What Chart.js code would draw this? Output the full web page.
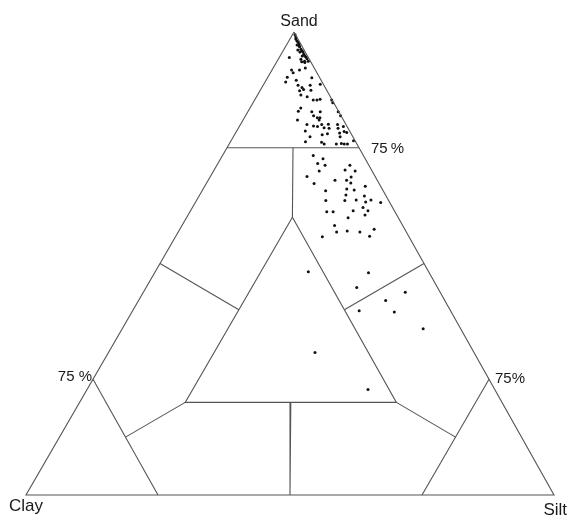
<!DOCTYPE html>
<html>
<head>
<meta charset="utf-8">
<script src="https://cdn.jsdelivr.net/npm/chart.js@4"></script>
<style>
html,body{margin:0;padding:0;background:#fff;}
#wrap{width:570px;height:517px;}
</style>
</head>
<body>
<div id="wrap"><canvas id="tern" width="570" height="517"></canvas></div>
<script>
// sample compositions, percent
const sand = [99.4,98.9,98.5,98.1,97.8,97.4,97.0,96.8,96.3,95.9,95.7,95.2,94.8,94.6,94.2,93.7,97.2,95.7,94.8,93.7,96.1,
  94.5,94.1,93.6,93.4,91.8,91.2,90.2,89.6,89.2,91.8,92.2,90.1,88.5,88.0,88.5,88.7,87.3,87.6,87.4,86.4,86.0,85.3,85.3,85.5,85.3,84.7,
  83.6,82.9,82.8,82.8,81.9,81.5,81.5,81.0,81.0,82.8,81.9,80.0,79.7,79.6,80.0,79.3,80.1,79.2,80.0,79.2,79.6,78.6,77.4,77.8,78.0,78.2,77.4,78.5,78.3,
  76.3,76.2,75.8,75.8,75.9,75.8,75.8,76.5,
  73.3,72.6,71.6,71.2,70.0,68.8,67.3,70.2,71.2,70.0,68.7,68.0,68.0,67.4,65.7,66.1,65.9,66.7,64.8,64.6,63.6,63.6,63.7,63.3,63.7,63.2,
  62.1,61.4,61.2,61.2,61.4,60.5,59.9,58.2,56.8,57.0,56.8,55.9,57.4,55.8,
  48.2,48.0,44.8,43.8,42.0,39.8,39.5,35.9,30.8,22.8];
const silt = [0.5,0.9,1.1,1.5,1.9,2.3,2.5,2.7,3.2,3.6,3.9,4.3,4.7,5.0,5.4,5.9,2.0,3.3,4.2,5.2,2.7,
  1.9,4.3,4.7,5.4,3.7,4.3,3.7,5.7,3.9,5.2,6.1,8.4,6.6,7.6,8.9,10.7,7.5,8.1,9.6,8.2,9.6,11.1,11.8,12.3,14.6,15.1,
  9.6,9.5,12.1,13.7,12.9,13.8,14.3,10.3,14.4,17.1,18.0,12.6,14.0,14.8,15.4,16.2,16.6,17.2,18.4,18.9,19.7,13.0,14.5,16.6,17.5,19.7,20.2,20.4,21.0,
  14.2,17.3,18.0,20.3,21.2,21.8,22.4,23.2,
  17.2,19.4,18.9,20.5,20.0,18.3,20.4,24.8,25.2,26.8,26.7,26.2,24.0,27.3,23.4,27.2,28.7,30.4,27.7,31.3,24.5,28.1,30.2,32.2,33.0,35.1,
  32.3,33.6,25.9,27.1,30.8,33.5,30.6,28.9,30.0,31.9,34.4,36.7,36.8,27.8,
  29.0,40.5,39.9,49.6,46.8,42.9,49.7,57.0,39.1,53.2];
const clay = [0.1,0.2,0.4,0.4,0.3,0.3,0.5,0.5,0.5,0.5,0.4,0.5,0.5,0.4,0.4,0.4,0.8,1.0,1.0,1.1,1.2,
  3.6,1.6,1.7,1.2,4.5,4.5,6.1,4.7,6.9,3.0,1.7,1.5,4.9,4.4,2.6,0.6,5.2,4.3,3.0,5.4,4.4,3.6,2.9,2.2,0.1,0.2,
  6.8,7.6,5.1,3.5,5.2,4.7,4.2,8.7,4.6,0.1,0.1,7.4,6.3,5.6,4.6,4.5,3.3,3.6,1.6,1.9,0.7,8.4,8.1,5.6,4.5,2.1,2.4,1.1,0.7,
  9.5,6.5,6.2,3.9,2.9,2.4,1.8,0.3,
  9.5,8.0,9.5,8.3,10.0,12.9,12.3,5.0,3.6,3.2,4.6,5.8,8.0,5.3,10.9,6.7,5.4,2.9,7.5,4.1,11.9,8.3,6.1,4.5,3.3,1.7,
  5.6,5.0,12.9,11.7,7.8,6.0,9.5,12.9,13.2,11.1,8.8,7.4,5.8,16.4,
  22.8,11.5,15.3,6.6,11.2,17.3,10.8,7.1,30.1,24.0];

const corners = ["Sand", "Clay", "Silt"];
const pctLabels = ["75\u2009%", "75 %", "75%"];

// class boundaries, each point [sand, silt, clay]
const boundaries = [
  [[100,0,0],[0,0,100],[0,100,0],[100,0,0]],
  [[75,0,25],[75,25,0]],
  [[25,0,75],[0,25,75]],
  [[25,75,0],[0,75,25]],
  [[60,20,20],[20,20,60],[20,60,20],[60,20,20]],
  [[75,12.5,12.5],[60,20,20]],
  [[50,0,50],[40,20,40]],
  [[50,50,0],[40,40,20]],
  [[12.5,12.5,75],[20,20,60]],
  [[12.5,75,12.5],[20,60,20]],
  [[20,40,40],[0,50,50]]
];

// sand apex sits a bit right of centre in the scan
const APEX = { x: 50.76, y: 87.69 };

function toXY(s, si, c){
  return { x: si + s * APEX.x / 100, y: s * APEX.y / 100 };
}

const labelPlugin = {
  id: "ternLabels",
  afterDraw(chart){
    const ctx = chart.ctx, xs = chart.scales.x, ys = chart.scales.y;
    const at = (s, si, c) => {
      const p = toXY(s, si, c);
      return [xs.getPixelForValue(p.x), ys.getPixelForValue(p.y)];
    };
    ctx.save();
    ctx.fillStyle = "#1a1a1a";
    ctx.textBaseline = "alphabetic";

    ctx.font = "16px 'Liberation Sans', Arial, sans-serif";
    let p = at(100, 0, 0);
    ctx.textAlign = "center";
    ctx.fillText(corners[0], p[0] + 5, p[1] - 6);
    ctx.font = "17px 'Liberation Sans', Arial, sans-serif";
    p = at(0, 0, 100);
    ctx.textAlign = "left";
    ctx.fillText(corners[1], p[0] - 17, p[1] + 16);
    p = at(0, 100, 0);
    ctx.textAlign = "right";
    ctx.fillText(corners[2], p[0] + 13, p[1] + 20);

    ctx.font = "15px 'Liberation Sans', Arial, sans-serif";
    p = at(75, 25, 0);
    ctx.textAlign = "left";
    ctx.fillText(pctLabels[0], p[0] + 12, p[1] + 5);
    p = at(25, 0, 75);
    ctx.textAlign = "right";
    ctx.fillText(pctLabels[1], p[0] - 1, p[1] + 2);
    p = at(25, 75, 0);
    ctx.textAlign = "left";
    ctx.fillText(pctLabels[2], p[0] + 6, p[1] + 4);
    ctx.restore();
  }
};

function buildChart(){
  const ctx = document.getElementById("tern");

  const lineSets = boundaries.map(seg => ({
    data: seg.map(q => toXY(q[0], q[1], q[2])),
    showLine: true,
    borderColor: "#555",
    borderWidth: 1.1,
    pointRadius: 0,
    pointHoverRadius: 0,
    fill: false
  }));

  const pts = sand.map((s, i) => toXY(s, silt[i], clay[i]));

  new Chart(ctx, {
    type: "scatter",
    data: {
      datasets: [
        ...lineSets,
        { data: pts, pointRadius: 1.5, pointHoverRadius: 1.5, pointBackgroundColor: "#111", pointBorderWidth: 0, showLine: false }
      ]
    },
    options: {
      responsive: false,
      animation: false,
      layout: { padding: 0, autoPadding: false },
      plugins: { legend: { display: false }, tooltip: { enabled: false } },
      scales: {
        x: { type: "linear", display: false, min: -4.924, max: 103.03 },
        y: { type: "linear", display: false, min: -4.167, max: 93.75 }
      }
    },
    plugins: [labelPlugin]
  });
}

document.addEventListener("DOMContentLoaded", buildChart);
</script>
</body>
</html>
